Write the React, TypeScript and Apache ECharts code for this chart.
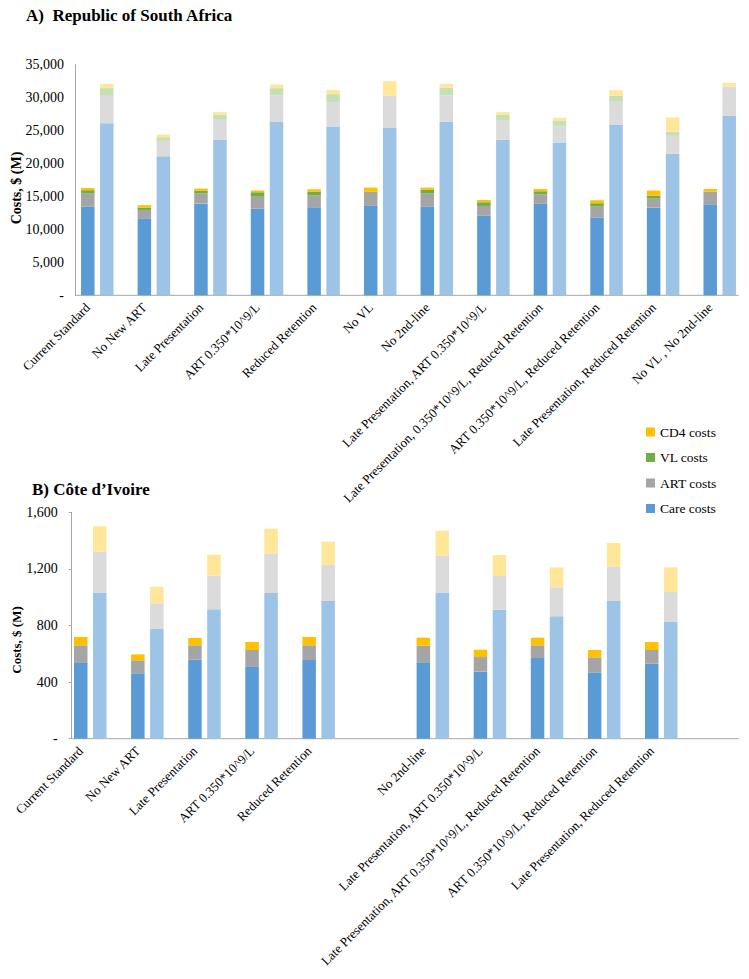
import React, { useEffect, useRef } from 'react';
import * as echarts from 'echarts';

// ---------- Categories ----------
const categoriesRSA = [
  'Current Standard',
  'No New ART',
  'Late Presentation',
  'ART 0.350*10^9/L',
  'Reduced Retention',
  'No VL',
  'No 2nd-line',
  'Late Presentation, ART 0.350*10^9/L',
  'Late Presentation, 0.350*10^9/L, Reduced Retention',
  'ART 0.350*10^9/L, Reduced Retention',
  'Late Presentation, Reduced Retention',
  'No VL , No 2nd-line',
];
const categoriesCIV = [
  'Current Standard',
  'No New ART',
  'Late Presentation',
  'ART 0.350*10^9/L',
  'Reduced Retention',
  '',
  'No 2nd-line',
  'Late Presentation, ART 0.350*10^9/L',
  'Late Presentation, ART 0.350*10^9/L, Reduced Retention',
  'ART 0.350*10^9/L, Reduced Retention',
  'Late Presentation, Reduced Retention',
  '',
];

const costNames = ['Care costs', 'ART costs', 'VL costs', 'CD4 costs'];
const legendOrder = ['CD4 costs', 'VL costs', 'ART costs', 'Care costs'];

// ---------- Republic of South Africa, $ (M) ----------
// first (darker) bar of each pair
const rsaCareA = [13470, 11700, 13920, 13160, 13370, 13570, 13470, 12100, 13880, 11800, 13310, 13830];
const rsaArtA = [1970, 1260, 1520, 1820, 1770, 2130, 1970, 1470, 1470, 1670, 1370, 1920];
const rsaVlA = [520, 350, 410, 670, 610, 0, 560, 560, 450, 510, 460, 0];
const rsaCd4A = [340, 370, 350, 250, 350, 650, 350, 350, 350, 460, 760, 400];
// second (lighter) bar of each pair
const rsaCareB = [26140, 21120, 23650, 26380, 25620, 25470, 26340, 23600, 23190, 25930, 21470, 27250];
const rsaArtB = [4150, 2330, 2990, 3950, 3710, 4860, 3990, 3000, 2540, 3450, 2740, 4450];
const rsaVlB = [1170, 550, 760, 1130, 1220, 0, 1220, 800, 810, 950, 610, 0];
const rsaCd4B = [610, 410, 410, 540, 600, 2190, 520, 410, 410, 820, 2180, 560];

// ---------- Côte d'Ivoire, $ (M) ----------
const civCareA = [540, 462, 558, 512, 556, null, 540, 474, 570, 467, 530, null];
const civArtA = [120, 92, 102, 115, 104, null, 117, 103, 90, 108, 97, null];
const civVlA = [0, 0, 0, 0, 0, null, 0, 0, 0, 0, 0, null];
const civCd4A = [59, 42, 52, 56, 59, null, 57, 52, 54, 52, 56, null];
const civCareB = [1030, 775, 914, 1030, 973, null, 1030, 912, 865, 973, 825, null];
const civArtB = [292, 182, 238, 280, 255, null, 263, 238, 205, 245, 212, null];
const civVlB = [0, 0, 0, 0, 0, null, 0, 0, 0, 0, 0, null];
const civCd4B = [179, 117, 148, 174, 164, null, 177, 148, 141, 165, 174, null];

// ---------- Styles ----------
const FONT = '"Liberation Serif", "Times New Roman", Times, serif';
const AXIS_GRAY = '#A6A6A6';
const darkColors = ['#5B9BD5', '#A5A5A5', '#70AD47', '#FFC000'];
const lightColors = ['#9DC3E6', '#DBDBDB', '#C5E0B4', '#FFE699'];
const BAR_W = 13.5;
const BAR_GAP = '40.7%';

const gridA = { left: 59.5, top: 64.8, width: 679, height: 230.5 };
const gridB = { left: 52.2, top: 512.3, width: 685.2, height: 226.4 };
const yAxisXA = 75;
const yAxisXB = 71.7;

function buildSeries(gridIndex: number, darkSets: any[][], lightSets: any[][]) {
  const list: any[] = [];
  // empty leading slot of each cluster (as in the original layout)
  list.push({
    type: 'bar',
    name: 'slot' + gridIndex,
    xAxisIndex: gridIndex,
    yAxisIndex: gridIndex,
    stack: 'slot' + gridIndex,
    data: darkSets[0].map(() => null),
    barWidth: BAR_W,
    barGap: BAR_GAP,
    silent: true,
  });
  darkSets.forEach((d, i) => {
    list.push({
      type: 'bar',
      name: costNames[i],
      xAxisIndex: gridIndex,
      yAxisIndex: gridIndex,
      stack: 'dark' + gridIndex,
      data: d,
      barWidth: BAR_W,
      barGap: BAR_GAP,
      itemStyle: { color: darkColors[i] },
      emphasis: { disabled: true },
    });
  });
  lightSets.forEach((d, i) => {
    list.push({
      type: 'bar',
      name: costNames[i] + ' (2)',
      xAxisIndex: gridIndex,
      yAxisIndex: gridIndex,
      stack: 'light' + gridIndex,
      data: d,
      barWidth: BAR_W,
      barGap: BAR_GAP,
      itemStyle: { color: lightColors[i] },
      emphasis: { disabled: true },
    });
  });
  return list;
}

const fmt = (v: number) => (v === 0 ? '-' : v.toLocaleString('en-US'));

export default function App() {
  const ref = useRef<HTMLDivElement>(null);
  useEffect(() => {
    document.body.style.margin = '0';
    if (!ref.current) return;
    const chart = echarts.init(ref.current, undefined, { renderer: 'svg' });
    const xLabel = { rotate: 45, interval: 0, fontSize: 13, fontFamily: FONT, color: '#000', margin: 10 };
    chart.setOption({
      animation: false,
      backgroundColor: '#fff',
      grid: [
        { ...gridA, containLabel: false },
        { ...gridB, containLabel: false },
      ],
      legend: {
        data: legendOrder,
        orient: 'vertical',
        left: 641,
        top: 420,
        icon: 'rect',
        itemWidth: 9,
        itemHeight: 9,
        itemGap: 11.5,
        textStyle: { fontSize: 13.5, fontFamily: FONT, color: '#000' },
        selectedMode: false,
      },
      xAxis: [
        {
          type: 'category',
          gridIndex: 0,
          data: categoriesRSA,
          axisLine: { show: false },
          axisTick: { show: false },
          axisLabel: xLabel,
        },
        {
          type: 'category',
          gridIndex: 1,
          data: categoriesCIV,
          axisLine: { show: false },
          axisTick: { show: false },
          axisLabel: xLabel,
        },
      ],
      yAxis: [
        {
          type: 'value',
          gridIndex: 0,
          min: 0,
          max: 35000,
          interval: 5000,
          offset: -(yAxisXA - gridA.left),
          axisLine: { show: true, lineStyle: { color: AXIS_GRAY, width: 1 } },
          axisTick: { show: false },
          splitLine: { show: false },
          axisLabel: { formatter: fmt, fontSize: 14, fontFamily: FONT, color: '#000', margin: 11 },
        },
        {
          type: 'value',
          gridIndex: 1,
          min: 0,
          max: 1600,
          interval: 400,
          offset: -(yAxisXB - gridB.left),
          axisLine: { show: true, lineStyle: { color: AXIS_GRAY, width: 1 } },
          axisTick: { show: true, length: 3, lineStyle: { color: AXIS_GRAY } },
          splitLine: { show: false },
          axisLabel: { formatter: fmt, fontSize: 14, fontFamily: FONT, color: '#000', margin: 14 },
        },
      ],
      series: [
        ...buildSeries(0, [rsaCareA, rsaArtA, rsaVlA, rsaCd4A], [rsaCareB, rsaArtB, rsaVlB, rsaCd4B]),
        ...buildSeries(1, [civCareA, civArtA, civVlA, civCd4A], [civCareB, civArtB, civVlB, civCd4B]),
      ],
      graphic: [
        {
          type: 'text',
          left: 26,
          top: 7,
          style: { text: 'A)  Republic of South Africa', font: `bold 17px ${FONT}`, fill: '#000' },
        },
        {
          type: 'text',
          left: 32,
          top: 481,
          style: { text: 'B) Côte d\u2019Ivoire', font: `bold 17px ${FONT}`, fill: '#000' },
        },
        {
          type: 'text',
          x: 16,
          y: 188,
          rotation: Math.PI / 2,
          style: {
            text: 'Costs, $ (M)',
            font: `bold 14px ${FONT}`,
            fill: '#000',
            align: 'center',
            verticalAlign: 'middle',
          },
        },
        {
          type: 'text',
          x: 16,
          y: 640,
          rotation: Math.PI / 2,
          style: {
            text: 'Costs, $ (M)',
            font: `bold 13px ${FONT}`,
            fill: '#000',
            align: 'center',
            verticalAlign: 'middle',
          },
        },
        {
          type: 'line',
          shape: {
            x1: yAxisXA,
            y1: gridA.top + gridA.height,
            x2: gridA.left + gridA.width,
            y2: gridA.top + gridA.height,
          },
          style: { stroke: AXIS_GRAY, lineWidth: 1 },
          silent: true,
        },
        {
          type: 'line',
          shape: {
            x1: yAxisXB,
            y1: gridB.top + gridB.height,
            x2: gridB.left + gridB.width + 1.5,
            y2: gridB.top + gridB.height,
          },
          style: { stroke: AXIS_GRAY, lineWidth: 1 },
          silent: true,
        },
      ],
    });
    return () => chart.dispose();
  }, []);
  return <div ref={ref} style={{ width: 749, height: 979 }} />;
}
